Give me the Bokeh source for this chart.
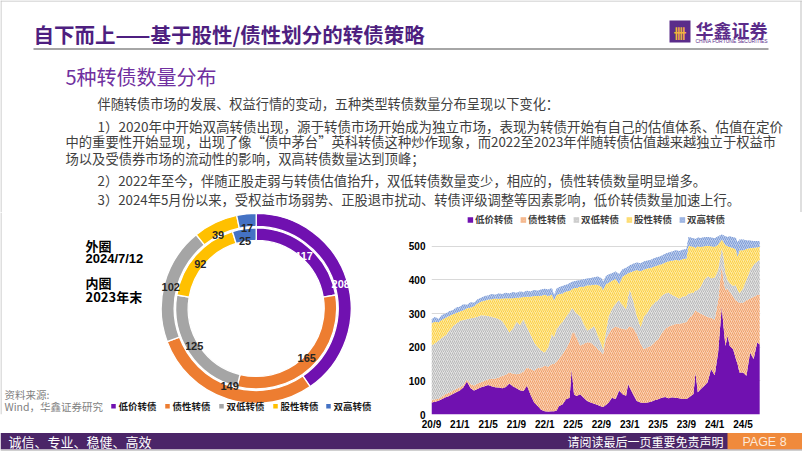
import math
import numpy as np
import pandas as pd
from bokeh.plotting import figure
from bokeh.models import Range1d, FixedTicker, ColumnDataSource, Legend, LegendItem
from bokeh.layouts import column, row
from bokeh.embed import file_html
from bokeh.resources import INLINE
from bokeh.core.properties import value

# ---------------- data ----------------
categories = ["低价转债", "债性转债", "双低转债", "股性转债", "双高转债"]
outer_2024_07_12 = [208, 149, 102, 39, 17]
inner_2023_end = [117, 165, 125, 92, 25]

dates = [
    "2020-09-01", "2020-09-16", "2020-10-01", "2020-10-16", "2020-11-01", "2020-11-16",
    "2020-12-01", "2020-12-16", "2021-01-01", "2021-01-16", "2021-02-01", "2021-02-16",
    "2021-03-01", "2021-03-16", "2021-04-01", "2021-04-16", "2021-05-01", "2021-05-16",
    "2021-06-01", "2021-06-16", "2021-07-01", "2021-07-16", "2021-08-01", "2021-08-16",
    "2021-09-01", "2021-09-16", "2021-10-01", "2021-10-16", "2021-11-01", "2021-11-16",
    "2021-12-01", "2021-12-16", "2022-01-01", "2022-01-16", "2022-02-01", "2022-02-10",
    "2022-02-20", "2022-03-01", "2022-03-16", "2022-04-01", "2022-04-16", "2022-04-25",
    "2022-05-05", "2022-05-16", "2022-06-01", "2022-06-16", "2022-07-01", "2022-07-16",
    "2022-08-01", "2022-08-16", "2022-09-01", "2022-09-08", "2022-09-20", "2022-10-01",
    "2022-10-16", "2022-11-01", "2022-11-16", "2022-12-01", "2022-12-16", "2022-12-25",
    "2023-01-01", "2023-01-16", "2023-02-01", "2023-02-16", "2023-03-01", "2023-03-16",
    "2023-04-01", "2023-04-16", "2023-05-01", "2023-05-16", "2023-06-01", "2023-06-16",
    "2023-07-01", "2023-07-16", "2023-08-01", "2023-08-16", "2023-09-01", "2023-09-10",
    "2023-10-01", "2023-10-10", "2023-10-20", "2023-11-01", "2023-11-16", "2023-12-01",
    "2023-12-16", "2024-01-01", "2024-01-16", "2024-02-01", "2024-02-08", "2024-02-16",
    "2024-02-25", "2024-03-05", "2024-03-20", "2024-04-01", "2024-04-08", "2024-04-16",
    "2024-05-01", "2024-05-16", "2024-06-01", "2024-06-16", "2024-07-01", "2024-07-12",
]
low_price = [
    36, 38, 41, 46, 51, 55, 61, 66, 71, 80, 98, 78,
    71, 76, 81, 84, 88, 84, 81, 80, 78, 82, 92, 84,
    78, 72, 70, 86, 58, 36, 25, 14, 10, 9, 10, 10,
    12, 25, 30, 45, 50, 135, 60, 55, 60, 50, 40, 36,
    32, 28, 24, 22, 28, 35, 50, 46, 71, 60, 56, 91,
    80, 60, 40, 36, 34, 36, 38, 42, 45, 50, 52, 48,
    51, 50, 48, 46, 46, 50, 61, 125, 66, 75, 85, 96,
    135, 117, 184, 322, 263, 204, 234, 204, 194, 165, 150, 125,
    125, 115, 184, 165, 214, 208,
]
debt_like = [
    8, 7, 6, 8, 10, 10, 10, 10, 10, 8, 6, 12,
    15, 16, 15, 16, 17, 22, 26, 30, 37, 36, 33, 38,
    42, 50, 58, 54, 77, 94, 113, 126, 135, 133, 140, 140,
    146, 140, 150, 150, 165, 105, 185, 175, 145, 160, 175, 178,
    173, 167, 161, 158, 197, 205, 205, 216, 187, 195, 197, 167,
    182, 198, 200, 174, 160, 164, 166, 173, 179, 190, 203, 214,
    214, 220, 222, 226, 229, 235, 239, 185, 239, 225, 210, 194,
    153, 165, 156, 123, 137, 166, 141, 161, 156, 175, 185, 207,
    207, 225, 161, 185, 141, 149,
]
double_low = [
    161, 167, 173, 174, 175, 183, 191, 194, 197, 193, 179, 196,
    202, 199, 199, 194, 188, 184, 181, 174, 163, 144, 119, 133,
    156, 143, 155, 120, 103, 85, 62, 50, 39, 58, 90, 80,
    97, 98, 95, 95, 90, 77, 65, 70, 88, 60, 35, 41,
    58, 39, 25, 12, 19, 50, 58, 68, 82, 70, 60, 92,
    110, 82, 53, 50, 96, 103, 116, 117, 116, 112, 105, 100,
    90, 80, 75, 78, 77, 75, 62, 58, 65, 80, 105, 121,
    117, 125, 90, 50, 70, 50, 25, 25, 32, 45, 35, 28,
    43, 60, 85, 95, 100, 102,
]
equity_like = [
    67, 64, 54, 54, 52, 45, 36, 32, 28, 29, 33, 32,
    34, 39, 41, 44, 49, 53, 57, 60, 67, 84, 102, 91,
    71, 83, 66, 90, 112, 137, 152, 163, 172, 152, 116, 110,
    100, 95, 85, 76, 63, 55, 66, 76, 87, 110, 134, 129,
    123, 152, 170, 178, 143, 102, 85, 73, 48, 85, 103, 70,
    50, 86, 137, 166, 141, 131, 116, 108, 104, 95, 92, 94,
    102, 110, 113, 112, 112, 142, 137, 128, 130, 118, 100, 91,
    95, 92, 75, 25, 42, 85, 100, 108, 113, 105, 100, 128,
    113, 92, 65, 51, 42, 39,
]
double_high = [
    11, 14, 10, 14, 12, 14, 12, 16, 14, 18, 10, 16,
    10, 12, 11, 14, 12, 15, 11, 16, 13, 16, 14, 18,
    15, 18, 15, 18, 16, 18, 16, 19, 18, 20, 20, 15,
    20, 20, 22, 20, 22, 22, 20, 22, 20, 22, 20, 22,
    22, 24, 25, 25, 25, 24, 22, 22, 30, 22, 20, 20,
    22, 22, 22, 24, 24, 24, 24, 25, 24, 25, 26, 26,
    28, 28, 28, 28, 28, 26, 25, 26, 26, 27, 27, 26,
    26, 25, 25, 15, 21, 25, 28, 32, 32, 35, 42, 32,
    32, 26, 22, 20, 19, 17,
]

x_tick_labels = ["20/9", "21/1", "21/5", "21/9", "22/1", "22/5",
                 "22/9", "23/1", "23/5", "23/9", "24/1", "24/5"]
y_ticks = [0, 100, 200, 300, 400, 500]

# ---------------- style ----------------
colors = ["#7011B0", "#ED7D31", "#A5A5A5", "#FFC000", "#4472C4"]
area_fill = ["#7011B0", "#F9D1B4", "#E2E2E2", "#FDEAA2", "#BCCDED"]
area_hatch = [None, "#F0A06A", "#B8B8B8", "#FCCF45", "#7E9CD6"]
CJK = "Noto Sans CJK SC"
ARIAL = "Liberation Sans"

RW, RH = 802, 451


def Y(yr):
    return RH - yr


def base_fig(x0, x1, y0_ref, y1_ref):
    p = figure(width=int(x1 - x0), height=int(y1_ref - y0_ref), x_range=Range1d(x0, x1),
               y_range=Range1d(Y(y1_ref), Y(y0_ref)),
               toolbar_location=None, output_backend="svg",
               x_axis_type=None, y_axis_type=None, min_border=0)
    p.outline_line_color = None
    p.background_fill_color = "white"
    p.border_fill_color = "white"
    return p


def txt(p, x, y_ref, s, size, color="#404040", font=CJK, bold=False,
        align="left", baseline="middle"):
    p.text(x=[x], y=[Y(y_ref)], text=[s], text_font=value(font),
           text_font_size=size, text_color=color,
           text_font_style="bold" if bold else "normal",
           text_align=align, text_baseline=baseline)


# ---------------- top: title + text ----------------
top = base_fig(0, 802, 0, 212)
top.segment(x0=[0.5], y0=[Y(0)], x1=[0.5], y1=[Y(212)], line_color="#BFBFBF", line_width=1)
top.segment(x0=[800.5], y0=[Y(0)], x1=[800.5], y1=[Y(212)], line_color="#BFBFBF", line_width=1)
top.segment(x0=[0], y0=[Y(0.5)], x1=[802], y1=[Y(0.5)], line_color="#BFBFBF", line_width=1)
txt(top, 33, 33, "自下而上——基于股性/债性划分的转债策略", "20.5px", "#4E1F80", bold=True)
top.segment(x0=[33], y0=[Y(48.5)], x1=[768], y1=[Y(48.5)], line_color="#A6A6A6", line_width=2)
top.quad(left=[669], right=[690], top=[Y(20)], bottom=[Y(42)], fill_color="#5B2C8A", line_color=None)
txt(top, 679.5, 31.5, "卌", "13px", "#F2B33D", bold=True, align="center")
txt(top, 695, 29, "华鑫证券", "18px", "#5B2C8A", bold=True)
txt(top, 695, 40.5, "CHINA FORTUNE SECURITIES", "5px", "#5B2C8A", font=ARIAL)

txt(top, 65, 76, "5种转债数量分布", "20px", "#7030A0")
# (x, y, text, font size) -- wrapped lines of the justified paragraph are a bit wider
paras = [
    (97, 103, "伴随转债市场的发展、权益行情的变动，五种类型转债数量分布呈现以下变化：", "13.2px"),
    (97, 125, "1）2020年中开始双高转债出现，源于转债市场开始成为独立市场，表现为转债开始有自己的估值体系、估值在定价", "13.5px"),
    (65, 141, "中的重要性开始显现，出现了像“债中茅台”英科转债这种炒作现象，而2022至2023年伴随转债估值越来越独立于权益市", "13.3px"),
    (65, 157.5, "场以及受债券市场的流动性的影响，双高转债数量达到顶峰；", "13.3px"),
    (97, 180, "2）2022年至今，伴随正股走弱与转债估值抬升，双低转债数量变少，相应的，债性转债数量明显增多。", "13.3px"),
    (97, 199, "3）2024年5月份以来，受权益市场弱势、正股退市扰动、转债评级调整等因素影响，低价转债数量加速上行。", "13.3px"),
]
for x, y, s, fs in paras:
    txt(top, x, y, s, fs, "#404040")

# ---------------- left: donut ----------------
left = base_fig(0, 395, 212, 432)
left.segment(x0=[0.5], y0=[Y(212)], x1=[0.5], y1=[Y(432)], line_color="#BFBFBF", line_width=1)
cx, cy = 255.7, Y(316.5)
rings = [(inner_2023_end, 68.0, 80.5), (outer_2024_07_12, 82.0, 95.0)]
for vals, r0, r1 in rings:
    tot = float(sum(vals))
    cum = np.concatenate([[0.0], np.cumsum(vals)]) / tot
    # clockwise from 12 o'clock -> math angles
    start = [math.pi / 2 - 2 * math.pi * cum[i + 1] for i in range(len(vals))]
    end = [math.pi / 2 - 2 * math.pi * cum[i] for i in range(len(vals))]
    src = ColumnDataSource(dict(start=start, end=end, color=colors))
    left.annular_wedge(x=cx, y=cy, inner_radius=r0, outer_radius=r1,
                       start_angle="start", end_angle="end", fill_color="color",
                       line_color="white", line_width=1.3, source=src)
    mid = [(s + e) / 2 for s, e in zip(start, end)]
    rm = (r0 + r1) / 2
    lsrc = ColumnDataSource(dict(
        x=[cx + rm * math.cos(a) for a in mid],
        y=[cy + rm * math.sin(a) for a in mid],
        t=[str(v) for v in vals],
        c=["white" if i == 0 else "#262626" for i in range(len(vals))]))
    left.text(x="x", y="y", text="t", text_color="c", source=lsrc,
              text_font=value(ARIAL), text_font_style="bold", text_font_size="11px",
              text_align="center", text_baseline="middle")

txt(left, 85, 248, "外圈", "13px", "#000000", bold=True)
txt(left, 85, 262, "2024/7/12", "13px", "#000000", font=ARIAL, bold=True)
txt(left, 85, 288, "内圈", "13px", "#000000", bold=True)
txt(left, 85, 303, "2023年末", "13px", "#000000", bold=True)

txt(left, 4, 410.5, "资料来源:", "10.5px", "#7F7F7F")
txt(left, 4, 423, "Wind，华鑫证券研究", "10.5px", "#7F7F7F")
leg_x = [113, 167, 221, 275, 328]
left.scatter(x=leg_x, y=[Y(423)] * 5, marker="square", size=4.5, color=colors, line_color=None)
for lx, cat in zip(leg_x, categories):
    txt(left, lx + 5, 423, cat, "9.5px", "#1A1A1A", bold=True)

# ---------------- right: stacked area ----------------
def month_index(s):
    d = pd.Timestamp(s)
    return (d.year - 2020) * 12 + (d.month - 9) + (d.day - 1) / d.days_in_month


xm = np.array([month_index(d) for d in dates])
series = [low_price, debt_like, double_low, equity_like, double_high]

area = figure(width=407, height=220, x_range=Range1d(0, 46.47), y_range=Range1d(0, 600.6),
              toolbar_location=None, output_backend="svg",
              min_border_left=36, min_border_right=42, min_border_top=0, min_border_bottom=17)
area.outline_line_color = None
area.background_fill_color = "white"
area.border_fill_color = "white"

base = np.zeros(len(xm))
items = []
for i, (vals, cat) in enumerate(zip(series, categories)):
    topv = base + np.array(vals, dtype=float)
    kw = dict(fill_color=area_fill[i])
    if area_hatch[i]:
        kw.update(hatch_pattern="/", hatch_color=area_hatch[i], hatch_scale=4.0,
                  hatch_weight=1.0)
    r = area.varea(x=xm, y1=base.copy(), y2=topv.copy(), **kw)
    items.append(LegendItem(label=cat, renderers=[r]))
    base = topv

legend = Legend(items=items, orientation="horizontal", location="top_center")
legend.border_line_color = None
legend.background_fill_alpha = 0
legend.margin = 0
legend.padding = 1
legend.spacing = 6
legend.glyph_width = 7
legend.glyph_height = 7
legend.label_standoff = 2
legend.label_height = 10
legend.label_text_font = CJK
legend.label_text_font_style = "bold"
legend.label_text_font_size = "9.5px"
legend.label_text_color = "#404040"
area.add_layout(legend)

area.xgrid.visible = False
area.ygrid.ticker = FixedTicker(ticks=y_ticks)
area.ygrid.grid_line_color = "#D9D9D9"
area.ygrid.grid_line_width = 1

tick_pos = [4 * i for i in range(len(x_tick_labels))]
area.xaxis.ticker = FixedTicker(ticks=tick_pos)
area.xaxis.major_label_overrides = {t: lab for t, lab in zip(tick_pos, x_tick_labels)}
area.yaxis.ticker = FixedTicker(ticks=y_ticks)
for ax in (area.xaxis, area.yaxis):
    ax.axis_line_color = None
    ax.major_tick_line_color = None
    ax.minor_tick_line_color = None
    ax.major_tick_in = 0
    ax.major_tick_out = 0
    ax.major_label_text_font = ARIAL
    ax.major_label_text_font_style = "bold"
    ax.major_label_text_font_size = "10px"
    ax.major_label_text_color = "#000000"
area.xaxis.major_label_standoff = 4
area.yaxis.major_label_standoff = 6

# ---------------- footer ----------------
foot = base_fig(0, 802, 432, 451)
foot.quad(left=[0], right=[802], bottom=[Y(449)], top=[Y(432.5)], fill_color="#4B2568", line_color=None)
foot.quad(left=[727], right=[802], bottom=[Y(449)], top=[Y(432.5)], fill_color="#F08A3C", line_color=None)
foot.quad(left=[0], right=[802], bottom=[Y(451)], top=[Y(449)], fill_color="#D0D0D0", line_color=None)
txt(foot, 8, 441, "诚信、专业、稳健、高效", "13px", "white")
txt(foot, 723, 441, "请阅读最后一页重要免责声明", "12px", "white", align="right")
txt(foot, 764, 441, "PAGE 8", "12.5px", "#FDE9D9", font=ARIAL, align="center")

layout = column(top, row(left, area), foot)
open("out.html", "w").write(file_html(layout, INLINE))
